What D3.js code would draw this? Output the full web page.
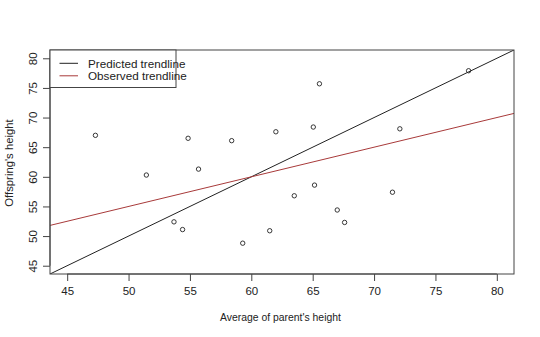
<!DOCTYPE html>
<html><head><meta charset="utf-8">
<script src="https://cdn.jsdelivr.net/npm/d3@7"></script>
<style>body{margin:0;background:#fff;} svg{display:block;font-family:"Liberation Sans",Arial,sans-serif;}</style>
</head><body>
<svg id="c" width="540" height="337"></svg>
<script>
const parentHeight = [47.3, 51.45, 53.7, 54.4, 54.85, 55.7, 58.4, 59.3, 61.5, 62.0, 63.5, 65.05, 65.15, 65.55, 67.0, 67.6, 71.5, 72.1, 77.7];
const offspringHeight = [67.0, 60.3, 52.4, 51.1, 66.5, 61.3, 66.1, 48.8, 50.9, 67.6, 56.8, 68.4, 58.6, 75.7, 54.4, 52.3, 57.4, 68.1, 77.9];
const xTicks = [45, 50, 55, 60, 65, 70, 75, 80];
const yTicks = [45, 50, 55, 60, 65, 70, 75, 80];
const trendlines = [
  {name: "Predicted trendline", intercept: 0, slope: 1, color: "#222"},
  {name: "Observed trendline", intercept: 30, slope: 0.5, color: "#a83a3a"}
];
const lim = [45, 80];

const svg = d3.select("#c");
const L = 50, R = 514, T = 50, B = 274;
const pad = (lim[1] - lim[0]) * 0.04;
const x = d3.scaleLinear().domain([lim[0] - pad, lim[1] + pad]).range([L, R]);
const y = d3.scaleLinear().domain([lim[0] - pad, lim[1] + pad]).range([B, T]);

const defs = svg.append("defs");
defs.append("clipPath").attr("id", "clip").append("rect")
  .attr("x", L).attr("y", T).attr("width", R - L).attr("height", B - T);

// trend lines
const xd = x.domain();
trendlines.forEach(t => {
  svg.append("line").attr("clip-path", "url(#clip)")
    .attr("x1", x(xd[0])).attr("y1", y(t.intercept + t.slope * xd[0]))
    .attr("x2", x(xd[1])).attr("y2", y(t.intercept + t.slope * xd[1]))
    .attr("stroke", t.color).attr("stroke-width", 1);
});

// points
svg.append("g").selectAll("circle").data(parentHeight).join("circle")
  .attr("cx", d => x(d)).attr("cy", (d, i) => y(offspringHeight[i]))
  .attr("r", 2.2).attr("fill", "none").attr("stroke", "#222").attr("stroke-width", 0.9);

// box
svg.append("rect").attr("x", L).attr("y", T).attr("width", R - L).attr("height", B - T)
  .attr("fill", "none").attr("stroke", "#444").attr("stroke-width", 1);

// x axis
const xAxis = svg.append("g").attr("transform", `translate(0,${B})`)
  .call(d3.axisBottom(x).tickValues(xTicks).tickSize(7).tickPadding(6).tickSizeOuter(0));
xAxis.select(".domain").attr("d", `M${x(xTicks[0])},0H${x(xTicks[xTicks.length-1])}`).attr("stroke", "#444");
xAxis.selectAll(".tick line").attr("stroke", "#444");
xAxis.selectAll("text").attr("font-size", 11.5).attr("fill", "#222").attr("font-family", "Liberation Sans, Arial, sans-serif");

// y axis
const yAxis = svg.append("g").attr("transform", `translate(${L},0)`)
  .call(d3.axisLeft(y).tickValues(yTicks).tickSize(7).tickSizeOuter(0));
yAxis.select(".domain").attr("d", `M0,${y(yTicks[0])}V${y(yTicks[yTicks.length-1])}`).attr("stroke", "#444");
yAxis.selectAll(".tick line").attr("stroke", "#444");
yAxis.selectAll(".tick text")
  .attr("x", 0).attr("dy", null).attr("dx", null)
  .attr("transform", "translate(-17.5,0) rotate(-90)")
  .attr("text-anchor", "middle").attr("dominant-baseline", "central")
  .attr("font-size", 11.5).attr("fill", "#222").attr("font-family", "Liberation Sans, Arial, sans-serif");

// axis titles
svg.append("text").attr("x", 280.5).attr("y", 321).attr("text-anchor", "middle")
  .attr("font-size", 10.4).attr("fill", "#222").text("Average of parent's height");
svg.append("text").attr("transform", `translate(13,163) rotate(-90)`)
  .attr("text-anchor", "middle").attr("font-size", 11.3).attr("fill", "#222").text("Offspring's height");

// legend
const lg = svg.append("g");
lg.append("rect").attr("x", L).attr("y", T).attr("width", 126).attr("height", 37.5)
  .attr("fill", "#fff").attr("stroke", "#444").attr("stroke-width", 1);
trendlines.forEach((t, i) => {
  const yy = 63.3 + i * 12.5;
  lg.append("line").attr("x1", 59.5).attr("x2", 78).attr("y1", yy).attr("y2", yy)
    .attr("stroke", t.color).attr("stroke-width", 1);
  lg.append("text").attr("x", 88).attr("y", yy).attr("dominant-baseline", "central")
    .attr("font-size", 11.7).attr("fill", "#222").text(t.name);
});
</script>
</body></html>
